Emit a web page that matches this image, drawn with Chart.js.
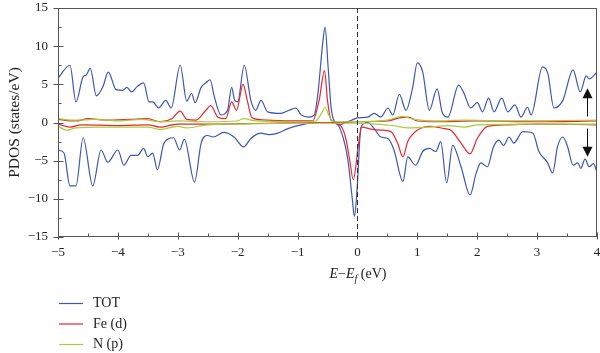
<!DOCTYPE html>
<html>
<head>
<meta charset="utf-8">
<script src="https://cdn.jsdelivr.net/npm/chart.js@4.4.1/dist/chart.umd.min.js"></script>
<style>
html, body { margin: 0; padding: 0; background: #fff; }
</style>
</head>
<body>
<canvas id="myChart" width="600" height="353"></canvas>
<script>
// series names and colours
const seriesNames = ['TOT', 'Fe (d)', 'N (p)'];
const seriesColors = ['#3d56b4', '#e8262e', '#a4cf3c'];

// axis ticks
const xTicks = [-5, -4, -3, -2, -1, 0, 1, 2, 3, 4];
const yTicks = [-15, -10, -5, 0, 5, 10, 15];

// [E - Ef, PDOS], spin up (positive) and spin down (negative)
const totUp = [[-5.0,5.8],[-4.8,7.5],[-4.7,2.7],[-4.58,6.0],[-4.53,6.2],[-4.46,7.1],[-4.36,3.5],[-4.25,4.7],
  [-4.16,6.6],[-4.03,4.3],[-3.92,4.2],[-3.85,4.6],[-3.77,4.0],[-3.68,4.7],[-3.57,5.2],[-3.48,2.7],[-3.42,2.7],
  [-3.32,1.9],[-3.2,2.9],[-3.11,1.9],[-2.96,7.5],[-2.85,2.8],[-2.77,3.8],[-2.71,2.6],[-2.61,4.6],[-2.53,5.2],
  [-2.46,5.6],[-2.39,3.4],[-2.28,1.0],[-2.17,1.6],[-2.1,4.6],[-2.05,2.9],[-2.0,2.7],[-1.89,7.5],[-1.78,2.9],
  [-1.7,1.6],[-1.61,2.9],[-1.5,1.4],[-1.28,1.2],[-1.14,1.6],[-1.03,1.9],[-0.94,1.0],[-0.81,0.7],[-0.72,1.0],
  [-0.66,3.8],[-0.58,10.4],[-0.54,12.5],[-0.49,7.3],[-0.44,2.0],[-0.39,0.2],[-0.3,-0.3],[-0.2,0],[-0.1,0.3],
  [0,0.6],[0.17,0.7],[0.28,1.2],[0.39,0.7],[0.51,1.9],[0.59,1.0],[0.7,3.7],[0.81,1.6],[0.92,4.5],[1.0,7.8],
  [1.09,6.6],[1.2,1.6],[1.33,4.4],[1.42,1.2],[1.51,0.7],[1.69,4.9],[1.78,3.8],[1.89,1.9],[2.0,2.6],[2.09,1.4],
  [2.19,3.2],[2.28,1.4],[2.41,3.2],[2.51,1.4],[2.63,2.3],[2.73,0.7],[2.84,2.0],[2.9,1.0],[3.09,7.3],[3.18,6.4],
  [3.28,1.9],[3.43,2.9],[3.6,6.9],[3.72,4.0],[3.82,6.1],[3.87,5.7],[4.0,6.6]];
const totDown = [[-5.0,-3.6],[-4.9,-4.0],[-4.8,-8.3],[-4.7,-8.3],[-4.58,-2.0],[-4.42,-8.3],[-4.28,-3.6],
  [-4.17,-5.2],[-4.0,-3.6],[-3.9,-5.6],[-3.78,-4.3],[-3.67,-4.3],[-3.57,-3.4],[-3.5,-4.5],[-3.42,-4.0],
  [-3.34,-6.2],[-3.23,-2.7],[-3.07,-2.0],[-2.97,-3.6],[-2.89,-2.2],[-2.72,-7.8],[-2.61,-2.7],[-2.5,-1.7],
  [-2.41,-1.9],[-2.23,-1.3],[-2.06,-1.9],[-1.9,-3.2],[-1.78,-2.1],[-1.61,-1.4],[-1.48,-1.6],[-1.33,-1.4],
  [-1.16,-0.8],[-0.94,-0.3],[-0.61,0],[-0.39,0],[-0.28,-1.0],[-0.16,-4.9],[-0.09,-9.7],[-0.05,-12.3],
  [-0.01,-9.2],[0.06,-0.6],[0.17,0],[0.28,-0.8],[0.39,-1.9],[0.51,-2.1],[0.61,-3.6],[0.76,-7.7],[0.84,-4.5],
  [0.97,-5.6],[1.09,-3.8],[1.2,-3.4],[1.31,-3.8],[1.39,-2.5],[1.49,-7.9],[1.59,-3.0],[1.73,-5.8],[1.88,-9.5],
  [1.98,-6.7],[2.06,-5.3],[2.17,-5.8],[2.27,-3.2],[2.36,-2.3],[2.44,-3.0],[2.53,-1.9],[2.61,-2.7],[2.76,-1.2],
  [2.93,-1.4],[3.03,-3.8],[3.17,-5.2],[3.26,-6.6],[3.34,-3.2],[3.43,-1.9],[3.51,-3.2],[3.6,-5.6],[3.68,-5.3],
  [3.73,-6.0],[3.8,-4.8],[3.87,-5.8],[3.94,-5.4],[4.0,-6.5]];

const feUp = [[-5.0,0.4],[-4.7,0.2],[-4.5,0.5],[-4.2,0.3],[-3.8,0.4],[-3.5,0.5],[-3.3,0.1],[-3.1,0.5],
  [-2.96,1.5],[-2.85,0.4],[-2.7,0.3],[-2.53,1.6],[-2.45,2.2],[-2.33,0.7],[-2.2,0.5],[-2.1,2.7],[-2.02,1.6],
  [-1.91,5.0],[-1.84,2.9],[-1.76,0.6],[-1.5,0.3],[-1.0,0.2],[-0.75,0.2],[-0.64,2.9],[-0.55,6.8],[-0.5,2.9],
  [-0.44,0.3],[-0.3,0],[0,0.1],[0.5,0.2],[0.7,0.6],[0.85,0.7],[1.0,0.2],[1.3,0.1],[2.0,0.2],[3.0,0.1],[4.0,0.2]];
const feDown = [[-5.0,-0.2],[-4.8,-0.6],[-4.6,-0.3],[-4.0,-0.4],[-3.5,-0.3],[-3.3,-0.6],[-3.0,-0.2],
  [-2.5,-0.2],[-1.5,-0.1],[-0.5,0],[-0.3,-0.3],[-0.2,-1.9],[-0.13,-4.9],[-0.07,-7.5],[0.02,-2.7],[0.07,-0.6],
  [0.25,-0.9],[0.39,-1.0],[0.56,-1.2],[0.67,-2.7],[0.76,-4.5],[0.84,-2.5],[1.0,-1.0],[1.22,-0.5],[1.45,-0.8],
  [1.56,-1.0],[1.73,-2.7],[1.88,-4.1],[2.0,-2.1],[2.17,-0.5],[2.5,-0.3],[3.0,-0.2],[4.0,-0.3]];

const nUp = [[-5.0,0.5],[-4.7,0.3],[-4.4,0.4],[-4.0,0.2],[-3.6,0.4],[-3.3,0.1],[-3.0,0.2],[-2.5,0.1],
  [-2.0,0.2],[-1.9,0.5],[-1.7,0.2],[-1.0,0.1],[-0.7,0.2],[-0.6,1.2],[-0.54,2.0],[-0.48,1.0],[-0.4,0.1],
  [0,0.1],[0.5,0.3],[0.75,0.8],[0.95,0.4],[1.3,0.2],[1.8,0.3],[2.5,0.2],[4.0,0.3]];
const nDown = [[-5.0,-0.5],[-4.85,-1.0],[-4.7,-0.7],[-4.3,-0.6],[-3.9,-0.6],[-3.5,-0.6],[-3.3,-0.9],
  [-3.0,-0.5],[-2.85,-0.7],[-2.5,-0.3],[-2.0,-0.2],[-1.0,-0.1],[0,-0.1],[0.3,-0.2],[0.6,-0.4],[0.85,-0.7],
  [1.2,-0.6],[1.5,-0.4],[1.8,-0.6],[2.0,-0.3],[3.0,-0.2],[4.0,-0.2]];

const seriesData = [[totUp, totDown], [feUp, feDown], [nUp, nDown]];

const serif = "'Liberation Serif', 'DejaVu Serif', serif";
const minus = s => String(s).replace('-', '\u2212');

const datasets = [];
seriesData.forEach((pair, i) => {
  pair.forEach(pts => {
    datasets.push({
      label: seriesNames[i],
      data: pts.map(p => ({x: p[0], y: p[1]})),
      borderColor: seriesColors[i],
      borderWidth: 1.2,
      pointRadius: 0,
      fill: false,
      cubicInterpolationMode: 'monotone',
      order: 2 - i
    });
  });
});

// no automatic label overflow padding, the layout padding sets the plot box
const noPad = s => { s.paddingTop = 0; s.paddingBottom = 0; s.paddingLeft = 0; s.paddingRight = 0; };

// frame, ticks, dashed Fermi line, spin arrows, x title and legend
const decor = {
  id: 'decor',
  afterDraw(chart) {
    const {ctx, chartArea: a, scales: {x, y}} = chart;
    ctx.save();
    ctx.strokeStyle = '#555';
    ctx.lineWidth = 1;
    ctx.strokeRect(Math.round(a.left) + 0.5, Math.round(a.top) + 0.5,
      Math.round(a.right - a.left) - 1, Math.round(a.bottom - a.top) - 1);

    const bx = Math.round(a.bottom) - 0.5, lx = Math.round(a.left) + 0.5;
    ctx.beginPath();
    for (let v = -5; v <= 4; v += 0.5) {
      const px = Math.round(x.getPixelForValue(v)) + 0.5;
      const major = Number.isInteger(v);
      ctx.moveTo(px, bx - (major ? 4 : 3));
      ctx.lineTo(px, bx + (major ? 3 : 0));
    }
    for (let v = -15; v <= 15; v += 2.5) {
      const py = Math.round(y.getPixelForValue(v)) + 0.5;
      const major = v % 5 === 0;
      ctx.moveTo(lx - (major ? 5 : 0), py);
      ctx.lineTo(lx + (major ? 5 : 3), py);
    }
    ctx.stroke();

    // Fermi level
    const x0 = Math.round(x.getPixelForValue(0)) + 0.5;
    ctx.strokeStyle = '#333';
    ctx.setLineDash([5, 3]);
    ctx.beginPath();
    ctx.moveTo(x0, a.top);
    ctx.lineTo(x0, a.bottom);
    ctx.stroke();
    ctx.setLineDash([]);

    // spin arrows
    const ax = Math.round(x.getPixelForValue(3.83)) + 0.5;
    ctx.strokeStyle = '#111';
    ctx.fillStyle = '#111';
    [[0.8, 4.5], [-0.8, -4.5]].forEach(([from, to]) => {
      const y1 = y.getPixelForValue(from), y2 = y.getPixelForValue(to);
      const dir = Math.sign(y2 - y1);
      ctx.beginPath();
      ctx.moveTo(ax, y1);
      ctx.lineTo(ax, y2 - dir * 8);
      ctx.stroke();
      ctx.beginPath();
      ctx.moveTo(ax, y2);
      ctx.lineTo(ax - 5, y2 - dir * 10);
      ctx.lineTo(ax + 5, y2 - dir * 10);
      ctx.closePath();
      ctx.fill();
    });

    // x title: E−E_f (eV)
    const parts = [
      {t: 'E', f: 'italic 14px ' + serif, dy: 0},
      {t: '\u2212', f: '14px ' + serif, dy: 0},
      {t: 'E', f: 'italic 14px ' + serif, dy: 0},
      {t: 'f', f: 'italic 10px ' + serif, dy: 4},
      {t: ' (eV)', f: '14px ' + serif, dy: 0}
    ];
    let w = 0;
    parts.forEach(p => { ctx.font = p.f; p.w = ctx.measureText(p.t).width; w += p.w; });
    let tx = 358 - w / 2;
    ctx.fillStyle = '#222';
    ctx.textBaseline = 'alphabetic';
    parts.forEach(p => { ctx.font = p.f; ctx.fillText(p.t, tx, 278 + p.dy); tx += p.w; });

    // legend
    ctx.font = '14px ' + serif;
    ctx.textBaseline = 'middle';
    seriesNames.forEach((name, i) => {
      const ly = 303.5 + i * 20.5;
      ctx.strokeStyle = seriesColors[i];
      ctx.lineWidth = 1.2;
      ctx.beginPath();
      ctx.moveTo(59, ly);
      ctx.lineTo(83, ly);
      ctx.stroke();
      ctx.fillStyle = '#222';
      ctx.fillText(name, 93, ly);
    });
    ctx.restore();
  }
};

const ctx = document.getElementById('myChart').getContext('2d');
const chart = new Chart(ctx, {
  type: 'line',
  data: {datasets},
  options: {
    responsive: false,
    animation: false,
    layout: {padding: {top: 8, right: 3, bottom: 70, left: 0}},
    plugins: {legend: {display: false}, tooltip: {enabled: false}},
    scales: {
      x: {
        type: 'linear',
        min: -5, max: 4,
        afterBuildTicks: s => { s.ticks = xTicks.map(v => ({value: v})); },
        afterFit: s => { s.height = 46; noPad(s); },
        grid: {display: false, drawTicks: false},
        border: {display: false},
        ticks: {
          padding: 8,
          color: '#222',
          font: {family: serif, size: 13},
          maxRotation: 0,
          callback: v => minus(v)
        }
      },
      y: {
        min: -15, max: 15,
        afterBuildTicks: s => { s.ticks = yTicks.map(v => ({value: v})); },
        afterFit: s => { s.width = 58; noPad(s); },
        grid: {display: false, drawTicks: false},
        border: {display: false},
        ticks: {
          padding: 10,
          color: '#222',
          font: {family: serif, size: 13},
          callback: v => minus(v)
        },
        title: {
          display: true,
          text: 'PDOS (states/eV)',
          color: '#222',
          font: {family: serif, size: 15.5},
          padding: {top: 6, bottom: 0}
        }
      }
    }
  },
  plugins: [decor]
});
</script>
</body>
</html>
